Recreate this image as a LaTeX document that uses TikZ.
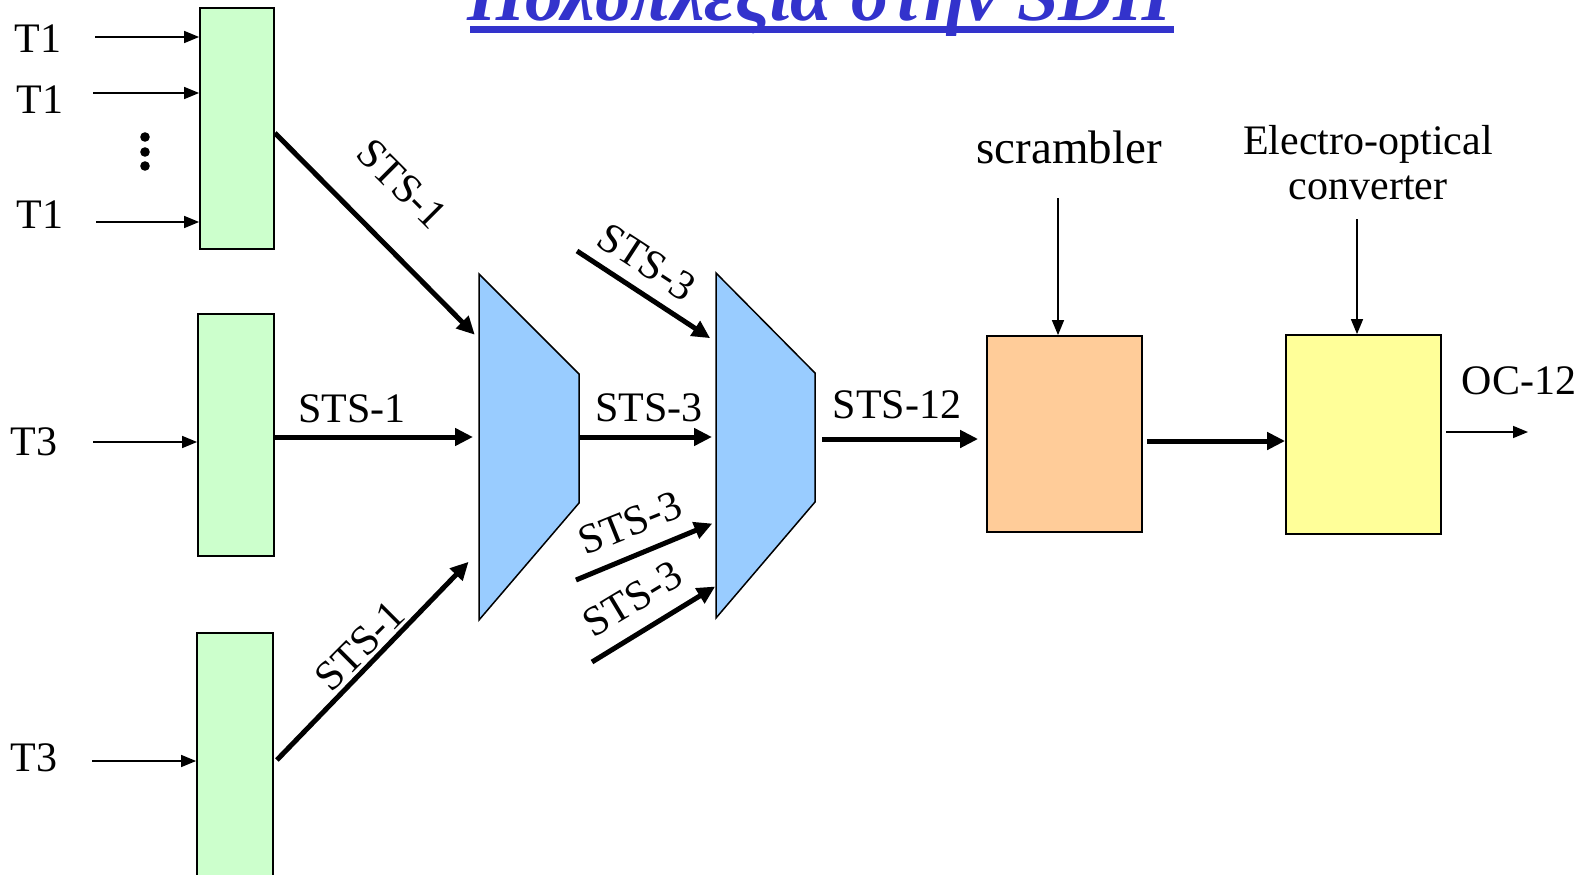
\documentclass[tikz,border=0pt]{standalone}
\usepackage{fontspec}
\setmainfont{Liberation Serif}
\usetikzlibrary{arrows.meta,calc}
\definecolor{titleblue}{HTML}{3333CC}
\definecolor{tribfill}{HTML}{CCFFCC}
\definecolor{muxfill}{HTML}{99CCFF}
\definecolor{scrfill}{HTML}{FFCC99}
\definecolor{eofill}{HTML}{FFFF99}

\begin{document}
\begin{tikzpicture}[x=1bp,y=-1bp,
  lbl/.style={font=\fontsize{42bp}{46bp}\selectfont, inner sep=0pt},
  tribbox/.style={draw, line width=1.8bp, fill=tribfill, inner sep=0pt, minimum width=75bp},
  procbox/.style={draw, line width=1.8bp, inner sep=0pt},
  muxshape/.style={draw, line width=1.5bp, fill=muxfill, line join=miter},
  thinarrow/.style={line width=1.5bp, -{Triangle[length=15bp,width=12bp]}},
  thickarrow/.style={line width=5bp, -{Triangle[length=18bp,width=17bp]}},
]
\useasboundingbox (0,0) rectangle (1594,874);
\clip (0,0) rectangle (1594,874);

% ---- title ----
\node[anchor=base west, inner sep=0pt, text=titleblue,
      font=\fontsize{75bp}{78bp}\selectfont\bfseries\itshape] (title) at (467,20) {Πολυπλεξία στην SDH};
\fill[titleblue] (470,26) rectangle (1174,33);

% ---- tributary boxes ----
\node[tribbox, minimum width=74bp, minimum height=241bp] (A) at (237,128.5) {};
\node[tribbox, minimum width=76bp, minimum height=242bp] (B) at (236,435) {};
\node[tribbox, minimum width=76bp, minimum height=250bp] (C) at (235,758) {};

% ---- input labels ----
\node[lbl, anchor=base] (t1a) at (38,52) {T1};
\node[lbl, anchor=base] (t1b) at (40,113) {T1};
\node[lbl, anchor=base] (t1c) at (40,228) {T1};
\node[lbl, anchor=base] (t3a) at (34,455) {T3};
\node[lbl, anchor=base] (t3b) at (34,771) {T3};

\coordinate (ia) at (95,37);
\coordinate (ib) at (93,93);
\coordinate (ic) at (96,222);
\coordinate (id) at (93,442);
\coordinate (ie) at (92,761);
\draw[thinarrow] (ia) -- (ia -| A.west);
\draw[thinarrow] (ib) -- (ib -| A.west);
\draw[thinarrow] (ic) -- (ic -| A.west);
\draw[thinarrow] (id) -- (id -| B.west);
\draw[thinarrow] (ie) -- (ie -| C.west);

% vertical ellipsis
\fill (145,137) circle (4.8bp);
\fill (145,152) circle (4.8bp);
\fill (145,166) circle (4.8bp);

% ---- first multiplexer ----
\coordinate (m1nw) at (479,274);
\coordinate (m1ne) at (579,374);
\coordinate (m1se) at (579,503);
\coordinate (m1sw) at (479,620);
\filldraw[muxshape] (m1nw) -- (m1ne) -- (m1se) -- (m1sw) -- cycle;
\coordinate (m1i1) at (479,339);
\coordinate (m1i2) at (479,437);
\coordinate (m1i3) at (479,551);
\coordinate (m1o) at (579,437);

% ---- second multiplexer ----
\coordinate (m2nw) at (716,273);
\coordinate (m2ne) at (815,373);
\coordinate (m2se) at (815,502);
\coordinate (m2sw) at (716,618);
\filldraw[muxshape] (m2nw) -- (m2ne) -- (m2se) -- (m2sw) -- cycle;
\coordinate (m2i1) at (716,342);
\coordinate (m2i2) at (716,437);
\coordinate (m2i3) at (716,522);
\coordinate (m2i4) at (716,586);
\coordinate (m2o) at (815,439);

% ---- STS-1 streams into the first multiplexer ----
\draw[thickarrow, shorten >=6bp] ($(A.east)+(0,4.5)$) -- (m1i1);
\draw[thickarrow, shorten >=6bp] (m1i2 -| B.east) -- (m1i2);
\draw[thickarrow, shorten >=15bp] ($(C.east)+(3,2)$) -- (m1i3);
\node[lbl, rotate=-45] (l1) at (402,184) {STS-1};
\node[lbl, anchor=base] (l2) at (352,422) {STS-1};
\node[lbl, rotate=45] (l3) at (360,646) {STS-1};

% ---- STS-3 streams into the second multiplexer ----
\coordinate (s1) at (577,251);
\coordinate (s3) at (576,580);
\coordinate (s4) at (592,662);
\draw[thickarrow, shorten >=7bp] (s1) -- (m2i1);
\draw[thickarrow, shorten >=4bp] (m1o) -- (m2i2);
\draw[thickarrow, shorten >=4bp] (s3) -- (m2i3);
\draw[thickarrow, shorten >=1bp] (s4) -- (m2i4);
\node[lbl, rotate=-33] (l4) at (647,262) {STS-3};
\node[lbl, anchor=base] (l5) at (649,421) {STS-3};
\node[lbl, rotate=22] (l6) at (630,523) {STS-3};
\node[lbl, rotate=31] (l7) at (632,599) {STS-3};

% ---- scrambler and electro-optical converter ----
\node[procbox, fill=scrfill, minimum width=155bp, minimum height=196bp] (scr) at (1064.5,434) {};
\node[procbox, fill=eofill, minimum width=155bp, minimum height=199bp] (eo) at (1363.5,434.5) {};

\draw[thickarrow, shorten <=7bp, shorten >=8bp] (m2o) -- (m2o -| scr.west);
\node[lbl, anchor=base] (l8) at (897,418) {STS-12};

\coordinate (so) at (1142,441);
\draw[thickarrow, shorten <=5bp] (so) -- (so -| eo.west);

\node[lbl, anchor=base, font=\fontsize{47bp}{50bp}\selectfont] (scrlbl) at (1069,163) {scrambler};
\coordinate (sa) at (1058,198);
\draw[thinarrow] (sa) -- (sa |- scr.north);

\node[lbl, anchor=base] (eolbl1) at (1368,154) {Electro-optical};
\node[lbl, anchor=base] (eolbl2) at (1368,199) {converter};
\coordinate (ea) at (1357,219);
\draw[thinarrow] (ea) -- (ea |- eo.north);

\coordinate (eoo) at (1441,432);
\coordinate (outp) at (1528,432);
\draw[thinarrow, shorten <=5bp] (eoo) -- (outp);
\node[lbl, anchor=base] (oc) at (1519,394) {OC-12};
\end{tikzpicture}
\end{document}
